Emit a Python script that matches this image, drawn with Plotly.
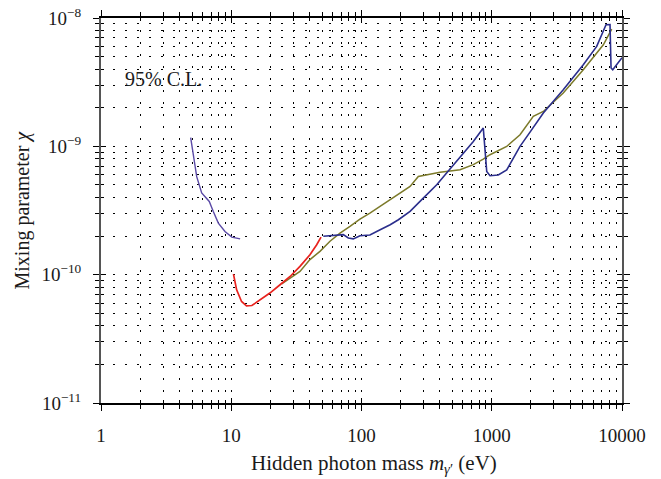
import plotly.graph_objects as go

# ---- data ----
purple_x = [4.88, 5.20, 5.43, 5.93, 6.28, 6.78, 7.28, 7.96, 8.95, 10.1, 11.7]
purple_y = [1.17e-9, 7.41e-10, 5.8e-10, 4.33e-10, 4.03e-10, 3.72e-10, 3.11e-10,
            2.52e-10, 2.17e-10, 1.96e-10, 1.90e-10]

red_x = [10.4, 11.0, 12.0, 13.1, 14.4, 16.6, 19.8, 23.7, 28.3, 33.7, 40.2, 45.3, 48.9]
red_y = [1.01e-10, 7.62e-11, 6.18e-11, 5.72e-11, 5.75e-11, 6.37e-11, 7.19e-11,
         8.34e-11, 9.68e-11, 1.16e-10, 1.43e-10, 1.71e-10, 1.96e-10]

olive_x = [24.4, 28.3, 33.7, 40.2, 48.0, 57.3, 68.4, 81.6, 97.3, 116, 139, 166, 198,
           236, 273, 401, 571, 722, 861, 970, 1303, 1648, 2084, 2488, 3540, 5043,
           7190, 8340]
olive_y = [8.49e-11, 9.4e-11, 1.06e-10, 1.31e-10, 1.52e-10, 1.82e-10, 2.11e-10,
           2.38e-10, 2.71e-10, 3.02e-10, 3.40e-10, 3.84e-10, 4.33e-10, 4.87e-10,
           5.82e-10, 6.27e-10, 6.57e-10, 7.2e-10, 7.96e-10, 8.6e-10, 9.98e-10,
           1.23e-9, 1.71e-9, 1.87e-9, 2.6e-9, 3.95e-9, 6.19e-9, 8.2e-9]

navy_x = [50.9, 60.7, 72.5, 79.2, 86.5, 97.3, 116, 139, 166, 192, 236, 298, 378, 478,
          605, 722, 861, 915, 970, 1123, 1303, 1648, 1967, 2489, 3540, 5043, 6395,
          7537, 8090, 8240, 8490, 9660, 10000]
navy_y = [1.99e-10, 2.01e-10, 2.05e-10, 1.93e-10, 1.90e-10, 2.01e-10, 2.04e-10,
          2.24e-10, 2.45e-10, 2.68e-10, 3.11e-10, 3.95e-10, 5.02e-10, 6.65e-10,
          8.87e-10, 1.09e-9, 1.39e-9, 6.37e-10, 5.9e-10, 5.98e-10, 6.56e-10, 1.0e-9,
          1.29e-9, 1.82e-9, 2.76e-9, 4.33e-9, 6.01e-9, 8.87e-9, 8.9e-9, 4.08e-9,
          3.95e-9, 4.73e-9, 4.9e-9]

x_ticks = [1, 10, 100, 1000, 10000]
x_labels = ["1", "10", "100", "1000", "10000"]
y_ticks = [1e-11, 1e-10, 1e-9, 1e-8]
y_labels = ["10<sup>\u221211</sup>", "10<sup>\u221210</sup>",
            "10<sup>\u22129</sup>", "10<sup>\u22128</sup>"]

x_minor = [m * 10 ** k for k in range(0, 4) for m in range(2, 10)]
y_minor = [m * 10.0 ** k for k in range(-11, -8) for m in range(2, 10)]

FONT = "Liberation Serif"
GRID_DASH = "2px,10px"
TXT = "#1a1a1a"

fig = go.Figure()
for xs, ys, col, w in [(purple_x, purple_y, "#5b4aa6", 1.4),
                       (olive_x, olive_y, "#7c7a2a", 1.5),
                       (red_x, red_y, "#e8231e", 1.7),
                       (navy_x, navy_y, "#2b2e8c", 1.6)]:
    fig.add_trace(go.Scatter(x=xs, y=ys, mode="lines",
                             line=dict(color=col, width=w), showlegend=False))

# invisible trace to carry the inside-tick overlay axes
fig.add_trace(go.Scatter(x=[1, 10000], y=[1e-11, 1e-8], xaxis="x2", yaxis="y2",
                         mode="markers", marker=dict(opacity=0),
                         showlegend=False, hoverinfo="skip"))

common = dict(type="log", showline=True, linecolor="black", linewidth=1.5,
              mirror="ticks", ticks="outside", ticklen=6, tickcolor="black",
              tickwidth=1, zeroline=False, automargin=False,
              ticklabeloverflow="allow",
              showgrid=True, gridcolor="black", gridwidth=1, griddash=GRID_DASH,
              tickfont=dict(family=FONT, size=19, color=TXT))

# page body adds an 8px margin, so the figure is 8px smaller and shifted
fig.update_layout(
    width=653, height=471,
    paper_bgcolor="white", plot_bgcolor="white",
    margin=dict(l=93, r=39, t=10, b=76),
    font=dict(family=FONT, size=19, color=TXT),
    xaxis=dict(range=[0, 4], tickmode="array", tickvals=x_ticks, ticktext=x_labels,
               ticklabelstandoff=8,
               minor=dict(tickmode="array", tickvals=x_minor, ticks="outside",
                          ticklen=4, tickcolor="black", showgrid=True,
                          gridcolor="black", gridwidth=1, griddash=GRID_DASH),
               **common),
    yaxis=dict(range=[-11, -8], tickmode="array", tickvals=y_ticks, ticktext=y_labels,
               ticklabelstandoff=8,
               minor=dict(tickmode="array", tickvals=y_minor, ticks="outside",
                          ticklen=4, tickcolor="black", showgrid=True,
                          gridcolor="black", gridwidth=1, griddash=GRID_DASH),
               **{**common, "linecolor": "#555", "linewidth": 2}),
    xaxis2=dict(type="log", range=[0, 4], overlaying="x", anchor="y2", side="bottom",
                tickmode="array", tickvals=x_ticks, ticks="inside", ticklen=5,
                tickcolor="black", showticklabels=False, showgrid=False,
                zeroline=False, showline=False, mirror="ticks", automargin=False,
                minor=dict(tickmode="array", tickvals=x_minor, ticks="inside",
                           ticklen=3, tickcolor="black")),
    yaxis2=dict(type="log", range=[-11, -8], overlaying="y", anchor="x2", side="left",
                tickmode="array", tickvals=y_ticks, ticks="inside", ticklen=5,
                tickcolor="black", showticklabels=False, showgrid=False,
                zeroline=False, showline=False, mirror="ticks", automargin=False,
                minor=dict(tickmode="array", tickvals=y_minor, ticks="inside",
                           ticklen=3, tickcolor="black")),
)

fig.add_annotation(text="95% C.L.", xref="paper", yref="paper",
                   x=(123 - 101) / 521, y=(403 - 79) / 385, xanchor="left",
                   yanchor="middle", showarrow=False,
                   font=dict(family=FONT, size=20, color=TXT))
fig.add_annotation(text="Hidden photon mass <i>m</i><sub><i>\u03b3</i>\u2032</sub> (eV)",
                   xref="paper", yref="paper", x=(374 - 101) / 521,
                   y=(403 - 464) / 385, xanchor="center", yanchor="middle",
                   showarrow=False, font=dict(family=FONT, size=21, color=TXT))
fig.add_annotation(text="Mixing parameter <i>\u03c7</i>", textangle=-90,
                   xref="paper", yref="paper", x=(22 - 101) / 521, y=0.5,
                   xanchor="center", yanchor="middle", showarrow=False,
                   font=dict(family=FONT, size=20, color=TXT))

fig.write_html("out.html")
